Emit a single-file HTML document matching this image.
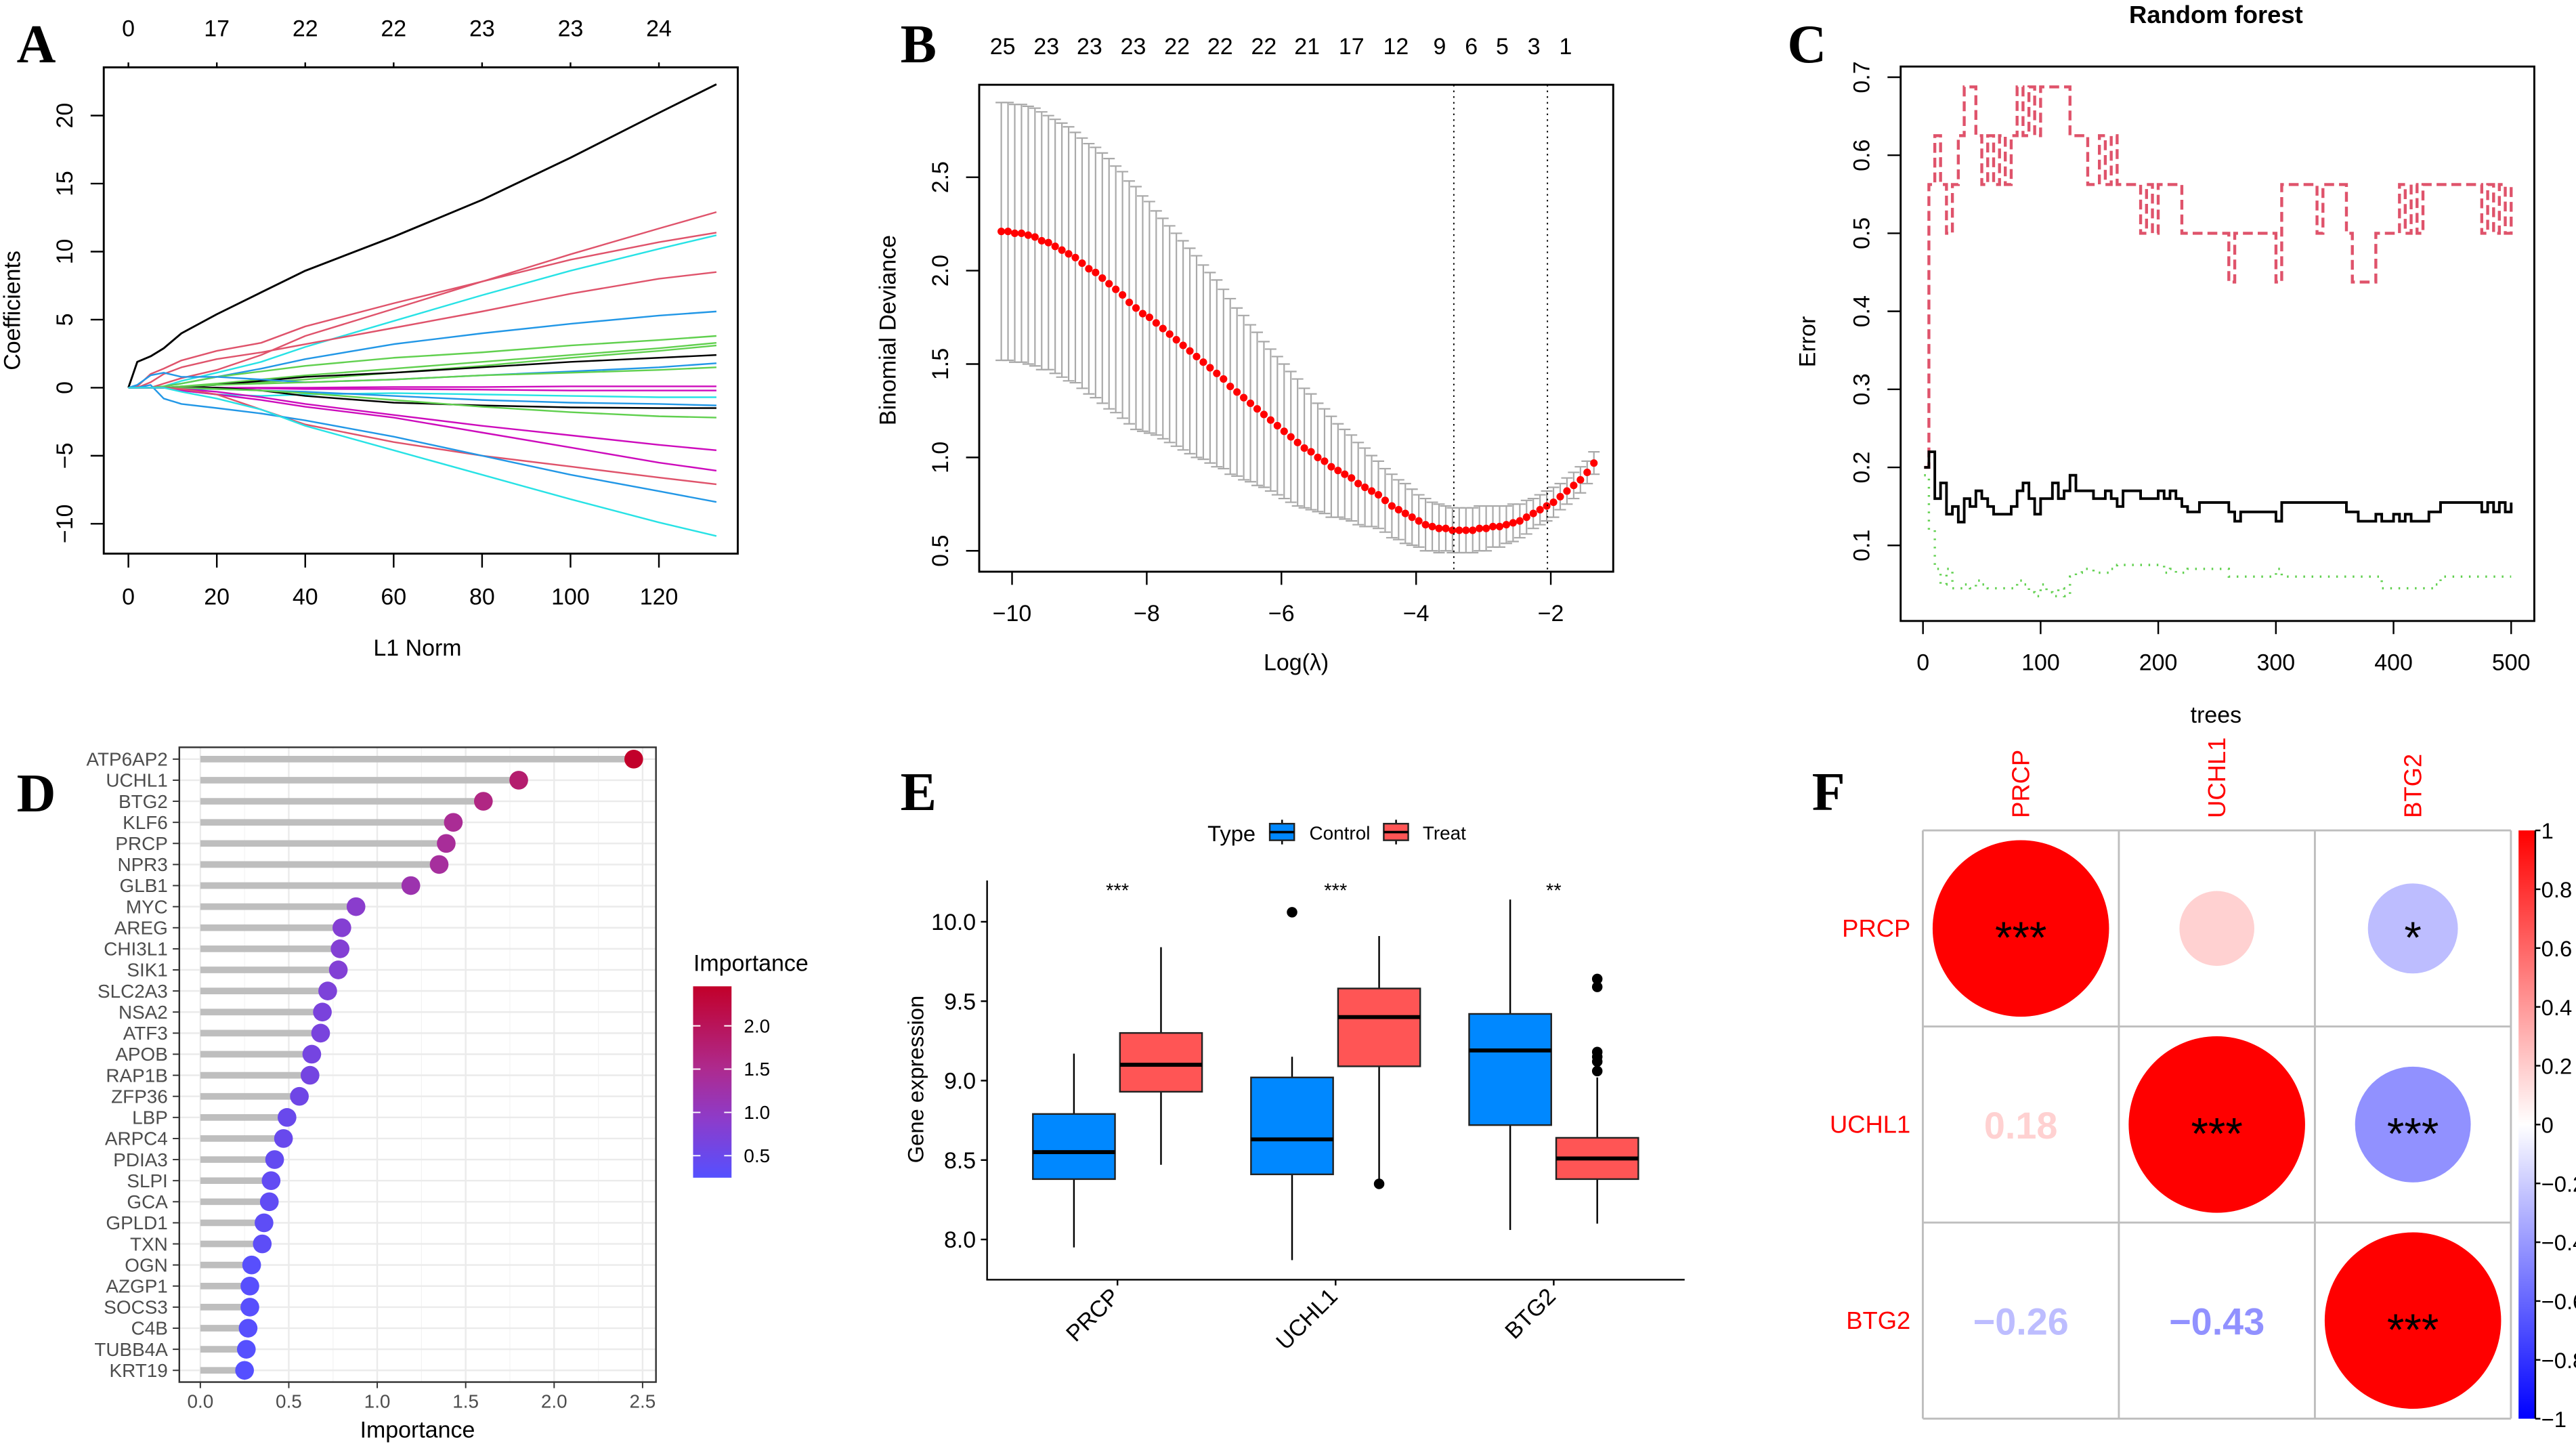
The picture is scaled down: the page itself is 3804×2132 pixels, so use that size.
<!DOCTYPE html>
<html><head><meta charset="utf-8"><title>Multi-panel figure</title>
<style>
html,body{margin:0;padding:0;background:#fff;}
svg{display:block;}
text{font-family:"Liberation Sans",sans-serif;}
.lbl{font-family:"Liberation Serif",serif;font-weight:bold;font-size:33px;}
</style></head>
<body>
<svg id="fig" xmlns="http://www.w3.org/2000/svg" width="3804" height="2132" viewBox="0 0 1568 879">
<rect x="0" y="0" width="1568" height="879" fill="#fff"/>
<text class="lbl" x="10" y="38">A</text>
<text class="lbl" x="548" y="38">B</text>
<text class="lbl" x="1088" y="38">C</text>
<text class="lbl" x="10" y="494">D</text>
<text class="lbl" x="548" y="493">E</text>
<text class="lbl" x="1103" y="493">F</text>
<g id="pA"></g>
<g id="pB"></g>
<g id="pC"></g>
<g id="pD"></g>
<g id="pE"></g>
<g id="pF"></g>
</svg>
<script>
// ---------- Panel A data ----------
const aX=[0,2,5,8,12,20,30,40,60,80,100,120,133];
const aTopLabels=["0","17","22","22","23","23","24"];
const aPath01=[0,1.9,2.3,2.9,4.0,5.4,7.0,8.6,11.1,13.8,16.9,20.2,22.3];
const aPath02=[0,0,0,0.3,0.7,1.3,2.4,3.8,5.8,7.8,9.8,11.7,12.9];
const aPath03=[0,0.1,1.0,1.4,2.0,2.7,3.3,4.5,6.2,7.8,9.4,10.7,11.4];
const aPath04=[0,0,0,0.1,0.5,1.1,1.9,3.0,4.9,6.8,8.6,10.2,11.2];
const aPath05=[0,0,0.4,1.0,1.5,2.1,2.6,3.2,4.4,5.6,6.9,8.0,8.5];
const aPath06=[0,0,0,0.1,0.3,0.8,1.4,2.1,3.2,4.0,4.7,5.3,5.6];
const aPath07=[0,0,0,0.1,0.3,0.8,1.2,1.6,2.2,2.6,3.1,3.5,3.8];
const aPath08=[0,0,0,0,0.1,0.3,0.6,0.9,1.4,1.9,2.4,2.9,3.3];
const aPath09=[0,0,0,0,0.1,0.2,0.4,0.6,1.1,1.6,2.2,2.7,3.1];
const aPath10=[0,0,0,0,0,0.2,0.5,0.8,1.1,1.5,1.9,2.2,2.4];
const aPath11=[0,0.2,0.9,1.1,0.8,0.8,0.6,0.4,0.6,0.9,1.2,1.5,1.8];
const aPath12=[0,0,0,0,0.1,0.2,0.3,0.4,0.6,0.9,1.1,1.3,1.5];
const aPath13=[0,0,0,0,0,0,0,0,0.05,0.05,0.1,0.1,0.1];
const aPath14=[0,0,0,0,0,0,-0.05,-0.1,-0.1,-0.15,-0.2,-0.2,-0.2];
const aPath15=[0,0,0,0,-0.2,-0.5,-0.6,-0.5,-0.4,-0.5,-0.6,-0.7,-0.7];
const aPath16=[0,0,0,0,-0.1,-0.1,-0.2,-0.3,-0.6,-0.9,-1.1,-1.2,-1.3];
const aPath17=[0,0,0,0,0,0,-0.2,-0.6,-1.1,-1.3,-1.45,-1.5,-1.5];
const aPath18=[0,0,0,0,0,-0.1,-0.2,-0.4,-0.9,-1.4,-1.8,-2.1,-2.2];
const aPath19=[0,0,0,0,-0.1,-0.3,-0.7,-1.2,-2.0,-2.8,-3.5,-4.2,-4.6];
const aPath20=[0,0,0,0,-0.2,-0.5,-0.9,-1.4,-2.2,-3.3,-4.4,-5.5,-6.1];
const aPath21=[0,0,0,0,-0.1,-0.5,-1.6,-2.7,-4.0,-5.0,-5.8,-6.6,-7.1];
const aPath22=[0,0,0.2,-0.8,-1.2,-1.5,-1.9,-2.4,-3.6,-5.0,-6.4,-7.6,-8.4];
const aPath23=[0,0,0,0,-0.3,-0.8,-1.6,-2.8,-4.6,-6.4,-8.2,-9.9,-10.9];
const aPaths=[aPath01,aPath02,aPath03,aPath04,aPath05,aPath06,aPath07,aPath08,aPath09,aPath10,aPath11,aPath12,aPath13,aPath14,aPath15,aPath16,aPath17,aPath18,aPath19,aPath20,aPath21,aPath22,aPath23];
const aColors=["#000","#DF536B","#DF536B","#28E2E5","#DF536B","#2297E6","#61D04F","#61D04F","#61D04F","#000","#2297E6","#61D04F","#CD0BBC","#CD0BBC","#28E2E5","#2297E6","#000","#61D04F","#CD0BBC","#CD0BBC","#DF536B","#2297E6","#28E2E5"];

// ---------- Panel B data ----------
const bMean=[2.21,2.21,2.20,2.20,2.19,2.18,2.16,2.15,2.13,2.11,2.09,2.07,2.04,2.01,1.99,1.96,1.93,1.90,1.87,1.83,1.80,1.77,1.75,1.72,1.69,1.66,1.63,1.60,1.57,1.54,1.51,1.48,1.45,1.42,1.38,1.35,1.32,1.29,1.26,1.23,1.20,1.17,1.14,1.11,1.08,1.05,1.03,1.00,0.98,0.95,0.93,0.91,0.89,0.86,0.84,0.82,0.80,0.77,0.74,0.72,0.70,0.68,0.66,0.64,0.63,0.62,0.62,0.61,0.61,0.61,0.61,0.62,0.62,0.63,0.63,0.64,0.65,0.66,0.68,0.70,0.72,0.74,0.76,0.79,0.82,0.85,0.88,0.92,0.97];
const bSE=[.69,.69,.69,.69,.69,.69,.69,.68,.68,.68,.68,.67,.67,.67,.67,.67,.67,.66,.66,.65,.65,.63,.62,.60,.59,.58,.57,.56,.55,.54,.52,.51,.50,.48,.47,.45,.44,.42,.41,.39,.38,.37,.36,.35,.34,.32,.31,.29,.28,.27,.25,.24,.23,.22,.21,.19,.18,.17,.17,.16,.16,.15,.14,.14,.13,.13,.12,.12,.12,.12,.12,.12,.12,.11,.11,.10,.10,.09,.09,.08,.08,.08,.08,.07,.07,.07,.07,.06,.06];
const bLambdaStart=-10.16, bLambdaStep=0.1;
const bTopLambda=[-10.14,-9.49,-8.85,-8.20,-7.55,-6.91,-6.26,-5.62,-4.96,-4.30,-3.65,-3.18,-2.72,-2.25,-1.78];
const bTopLabels=["25","23","23","23","22","22","22","21","17","12","9","6","5","3","1"];
const bVLines=[-3.44,-2.05];

// ---------- Panel C data ----------
const cRed=[.20,
.5625,.625,.5625,.5,.5625,.625,.6875,.6875,.625,.5625,
.625,.5625,.625,.5625,.625,.6875,.625,.6875,.625,.6875,
.6875,.6875,.6875,.6875,.625,.625,.625,.5625,.5625,.625,
.5625,.625,.5625,.5625,.5625,.5625,.5,.5625,.5,.5625,
.5625,.5625,.5625,.5,.5,.5,.5,.5,.5,.5,
.5,.4375,.5,.5,.5,.5,.5,.5,.5,.4375,
.5625,.5625,.5625,.5625,.5625,.5625,.5,.5625,.5625,.5625,
.5625,.5,.4375,.4375,.4375,.4375,.5,.5,.5,.5,
.5625,.5,.5625,.5,.5625,.5625,.5625,.5625,.5625,.5625,
.5625,.5625,.5625,.5625,.5,.5625,.5,.5625,.5,.5625];
const cBlack=[.20,
.22,.16,.18,.14,.15,.13,.16,.15,.17,.16,
.15,.14,.14,.14,.15,.17,.18,.16,.14,.16,
.16,.18,.16,.17,.19,.17,.17,.17,.16,.16,
.17,.16,.15,.17,.17,.17,.16,.16,.16,.17,
.16,.17,.16,.15,.143,.143,.155,.155,.155,.155,
.155,.143,.131,.143,.143,.143,.143,.143,.143,.131,
.155,.155,.155,.155,.155,.155,.155,.155,.155,.155,
.155,.143,.143,.131,.131,.131,.14,.131,.131,.14,
.131,.14,.131,.131,.131,.143,.143,.155,.155,.155,
.155,.155,.155,.155,.143,.155,.143,.155,.143,.155];
const cGreen=[.19,
.12,.07,.05,.07,.045,.045,.05,.045,.055,.05,
.045,.045,.045,.045,.045,.055,.05,.04,.035,.05,
.04,.035,.045,.035,.06,.065,.07,.07,.065,.065,
.065,.07,.075,.075,.075,.075,.075,.075,.075,.075,
.065,.07,.065,.065,.07,.07,.07,.07,.07,.07,
.07,.06,.06,.06,.06,.06,.06,.06,.06,.07,
.06,.06,.06,.06,.06,.06,.06,.06,.06,.06,
.06,.06,.06,.06,.06,.06,.06,.045,.045,.045,
.045,.045,.045,.045,.045,.045,.05,.06,.06,.06,
.06,.06,.06,.06,.06,.06,.06,.06,.06,.06];

// ---------- Panel D data ----------
const dGenes=["ATP6AP2","UCHL1","BTG2","KLF6","PRCP","NPR3","GLB1","MYC","AREG","CHI3L1","SIK1","SLC2A3","NSA2","ATF3","APOB","RAP1B","ZFP36","LBP","ARPC4","PDIA3","SLPI","GCA","GPLD1","TXN","OGN","AZGP1","SOCS3","C4B","TUBB4A","KRT19"];
const dValues=[2.45,1.80,1.60,1.43,1.39,1.35,1.19,0.88,0.80,0.79,0.78,0.72,0.69,0.68,0.63,0.62,0.56,0.49,0.47,0.42,0.40,0.39,0.36,0.35,0.29,0.28,0.28,0.27,0.26,0.25];
const dTicks=["0.0","0.5","1.0","1.5","2.0","2.5"];
const dLegendTicks=["0.5","1.0","1.5","2.0"];

// ---------- Panel E data ----------
const eGenes=["PRCP","UCHL1","BTG2"];
const eSig=["***","***","**"];
const eCtrlLow=[7.95,7.87,8.06], eCtrlQ1=[8.38,8.41,8.72], eCtrlMed=[8.55,8.63,9.19], eCtrlQ3=[8.79,9.02,9.42], eCtrlHigh=[9.17,9.15,10.14];
const eTrtLow=[8.47,8.37,8.10], eTrtQ1=[8.93,9.09,8.38], eTrtMed=[9.10,9.40,8.51], eTrtQ3=[9.30,9.58,8.64], eTrtHigh=[9.84,9.91,9.02];
const eCtrlOut=[[],[10.06],[]];
const eTrtOut=[[],[8.35],[9.64,9.59,9.18,9.15,9.12,9.06]];
const eTicks=["8.0","8.5","9.0","9.5","10.0"];

// ---------- Panel F data ----------
const fGenes=["PRCP","UCHL1","BTG2"];
const fRow1=[1,0.18,-0.26];
const fRow2=[0.18,1,-0.43];
const fRow3=[-0.26,-0.43,1];
const fStars1=["***","","*"];
const fStars2=["","***","***"];
const fStars3=["","","***"];
const fBarTicks=["1","0.8","0.6","0.4","0.2","0","-0.2","-0.4","-0.6","-0.8","-1"];

const NS="http://www.w3.org/2000/svg";
function mk(parent,tag,attrs,txt){const e=document.createElementNS(NS,tag);for(const k in attrs)e.setAttribute(k,attrs[k]);if(txt!==undefined)e.textContent=txt;parent.appendChild(e);return e;}
const defs=mk(document.getElementById('fig'),'defs',{});

// ======== Panel A ========
(function(){
const g=document.getElementById('pA');
const ax=v=>78+v*(323/120);
const ay=v=>236-v*8.283;
let e=mk(g,'rect',{x:63,y:41,width:386,height:296,fill:'none',stroke:'#000','stroke-width':1.2});


for(let i=0;i<=6;i++){const v=i*20;
 let t=mk(g,'line',{x1:ax(v),x2:ax(v),y1:337,y2:345.5,stroke:'#000'});
 
 
 let l=mk(g,'text',{x:ax(v),y:368,'font-size':14,'text-anchor':'middle'},String(v));
 
 
 let tt=mk(g,'line',{x1:ax(v),x2:ax(v),y1:38,y2:41,stroke:'#000'});
 
 
 let tl=mk(g,'text',{x:ax(v),y:22,'font-size':14,'text-anchor':'middle'},aTopLabels[i]);
 
 
}
for(let v=-10;v<=20;v+=5){
 let t=mk(g,'line',{x1:55,x2:63,y1:ay(v),y2:ay(v),stroke:'#000'});
 
 
 let l=mk(g,'text',{x:44,y:ay(v),'font-size':14,'text-anchor':'middle',transform:`rotate(-90 44 ${ay(v)})`},v<0?'\u2212'+(-v):String(v));
 
 
}
aPaths.forEach((p,k)=>{
 const d=p.map((v,i)=>(i?'L':'M')+ax(aX[i]).toFixed(1)+','+ay(v).toFixed(1)).join('');
 let s=mk(g,'path',{d:d,fill:'none',stroke:aColors[k],'stroke-width':(k===0?1.2:1),'stroke-linejoin':'round'});
 
 
});
let xt=mk(g,'text',{x:254,y:399,'font-size':14,'text-anchor':'middle'},'L1 Norm');


let yt=mk(g,'text',{x:12,y:189,'font-size':14,'text-anchor':'middle',transform:'rotate(-90 12 189)'},'Coefficients');


})();

// ======== Panel B ========
(function(){
const g=document.getElementById('pB');
const bx=l=>616+(l+10)*41;
const by=v=>335.3-(v-0.5)*113.7;
let e=mk(g,'rect',{x:596,y:51.6,width:386,height:296.4,fill:'none',stroke:'#000','stroke-width':1.2});


for(let v=-10;v<=-2;v+=2){
 let t=mk(g,'line',{x1:bx(v),x2:bx(v),y1:348,y2:356,stroke:'#000'});
 
 
 let l=mk(g,'text',{x:bx(v),y:378,'font-size':14,'text-anchor':'middle'},'\u2212'+(-v));
 
 
}
for(let i=0;i<5;i++){const v=0.5+i*0.5;
 let t=mk(g,'line',{x1:588,x2:596,y1:by(v),y2:by(v),stroke:'#000'});
 
 
 let l=mk(g,'text',{x:577,y:by(v),'font-size':14,'text-anchor':'middle',transform:`rotate(-90 577 ${by(v)})`},v.toFixed(1));
 
 
}
bTopLambda.forEach((l,i)=>{
 let t=mk(g,'text',{x:bx(l),y:33,'font-size':14,'text-anchor':'middle'},bTopLabels[i]);
 
 
});
bMean.forEach((m,i)=>{
 const l=bLambdaStart+i*bLambdaStep, x=bx(l), hi=by(m+bSE[i]), lo=by(m-bSE[i]);
 let eb=mk(g,'path',{d:`M${x},${hi}V${lo}M${x-3.5},${hi}H${x+3.5}M${x-3.5},${lo}H${x+3.5}`,stroke:'#A9A9A9','stroke-width':0.9,fill:'none'});
 
 
});
bMean.forEach((m,i)=>{
 const l=bLambdaStart+i*bLambdaStep;
 let c=mk(g,'circle',{cx:bx(l),cy:by(m),r:2.3,fill:'#FF0000'});
 
 
});
bVLines.forEach(l=>{
 let v=mk(g,'line',{x1:bx(l),x2:bx(l),y1:51.6,y2:348,stroke:'#000','stroke-width':0.8,'stroke-dasharray':'1 2.5'});
 
 
});
let xt=mk(g,'text',{x:789,y:408,'font-size':14,'text-anchor':'middle'},'Log(\u03bb)');


let yt=mk(g,'text',{x:545,y:201,'font-size':14,'text-anchor':'middle',transform:'rotate(-90 545 201)'},'Binomial Deviance');


})();

// ======== Panel C ========
(function(){
const g=document.getElementById('pC');
const cx=t=>1170.6+t*0.7162;
const cy=v=>332-(v-0.1)*475;
let e=mk(g,'rect',{x:1157,y:40.5,width:385.8,height:337.5,fill:'none',stroke:'#000','stroke-width':1.2});


for(let v=0;v<=500;v+=100){
 let t=mk(g,'line',{x1:cx(v),x2:cx(v),y1:378,y2:386,stroke:'#000'});
 
 
 let l=mk(g,'text',{x:cx(v),y:408,'font-size':14,'text-anchor':'middle'},String(v));
 
 
}
for(let i=1;i<=7;i++){const v=i/10;
 let t=mk(g,'line',{x1:1149,x2:1157,y1:cy(v),y2:cy(v),stroke:'#000'});
 
 
 let l=mk(g,'text',{x:1138,y:cy(v),'font-size':14,'text-anchor':'middle',transform:`rotate(-90 1138 ${cy(v)})`},v.toFixed(1));
 
 
}
const trees=cRed.map((_,i)=>i===0?1:i*5);
function stepPath(vals){let d='M'+cx(trees[0]).toFixed(1)+','+cy(vals[0]).toFixed(1);for(let i=1;i<vals.length;i++){d+='H'+cx(trees[i]).toFixed(1)+'V'+cy(vals[i]).toFixed(1);}return d;}
let r=mk(g,'path',{d:stepPath(cRed),fill:'none',stroke:'#DF536B','stroke-width':1.8,'stroke-dasharray':'6 3'});


let gr=mk(g,'path',{d:stepPath(cGreen),fill:'none',stroke:'#61D04F','stroke-width':1.4,'stroke-dasharray':'1 4'});


let b=mk(g,'path',{d:stepPath(cBlack),fill:'none',stroke:'#000','stroke-width':1.6});


let ti=mk(g,'text',{x:1349,y:14,'font-size':15,'font-weight':'bold','text-anchor':'middle'},'Random forest');


let xt=mk(g,'text',{x:1349,y:440,'font-size':14,'text-anchor':'middle'},'trees');


let yt=mk(g,'text',{x:1105,y:208,'font-size':14,'text-anchor':'middle',transform:'rotate(-90 1105 208)'},'Error');


})();

// ======== Panel D ========
function impColor(v){
 const stops=[[0.25,[85,80,255]],[0.9,[140,60,203]],[1.5,[174,42,142]],[2.45,[194,0,42]]];
 if(v<=stops[0][0])return 'rgb('+stops[0][1]+')';
 for(let i=1;i<stops.length;i++){if(v<=stops[i][0]){const a=stops[i-1],b=stops[i],t=(v-a[0])/(b[0]-a[0]);return 'rgb('+a[1].map((c,k)=>Math.round(c+(b[1][k]-c)*t)).join(',')+')';}}
 return 'rgb('+stops[3][1]+')';
}
(function(){
const g=document.getElementById('pD');
const dx=v=>121.8+v*107.7;
const dy=i=>462.1+i*12.83;
let bg=mk(g,'rect',{x:109,y:454.9,width:290.2,height:386.4,fill:'#fff'});


for(let k=0;k<=10;k++){const v=k*0.25;
 let gl=mk(g,'line',{x1:dx(v),x2:dx(v),y1:454.9,y2:841.3,stroke:(k%2?'#f3f3f3':'#ebebeb'),'stroke-width':(k%2?0.5:1)});
 
 
}
dGenes.forEach((gn,i)=>{
 let gl=mk(g,'line',{x1:109,x2:399.2,y1:dy(i),y2:dy(i),stroke:'#ebebeb','stroke-width':1});
 
 
});
dGenes.forEach((gn,i)=>{
 let s=mk(g,'line',{x1:dx(0),x2:dx(dValues[i]),y1:dy(i),y2:dy(i),stroke:'#bebebe','stroke-width':4});
 
 
});
dGenes.forEach((gn,i)=>{
 let c=mk(g,'circle',{cx:dx(dValues[i]),cy:dy(i),r:5.7,fill:impColor(dValues[i])});
 
 
 let t=mk(g,'line',{x1:105,x2:109,y1:dy(i),y2:dy(i),stroke:'#333','stroke-width':0.8});
 
 
 let l=mk(g,'text',{x:102,y:dy(i)+4,'font-size':11.5,'text-anchor':'end',fill:'#4d4d4d'},gn);
 
 
});
let bd=mk(g,'rect',{x:109,y:454.9,width:290.2,height:386.4,fill:'none',stroke:'#333','stroke-width':1});


dTicks.forEach((tk,i)=>{const v=i*0.5;
 let t=mk(g,'line',{x1:dx(v),x2:dx(v),y1:841.3,y2:845,stroke:'#333','stroke-width':0.8});
 
 
 let l=mk(g,'text',{x:dx(v),y:857,'font-size':11.5,'text-anchor':'middle',fill:'#4d4d4d'},tk);
 
 
});
let xt=mk(g,'text',{x:254,y:875,'font-size':14,'text-anchor':'middle'},'Importance');


// legend
const lg=mk(defs,'linearGradient',{id:'impGrad',x1:0,y1:1,x2:0,y2:0});
[[0,0.245],[0.3,0.9],[0.57,1.5],[1,2.455]].forEach(s=>{mk(lg,'stop',{offset:s[0],'stop-color':impColor(s[1])});});
let lt=mk(g,'text',{x:422,y:591,'font-size':14},'Importance');


let lb=mk(g,'rect',{x:421.8,y:600.4,width:23.4,height:116.5,fill:'url(#impGrad)'});


const ly=v=>703.5-(v-0.5)*52.7;
dLegendTicks.forEach(tk=>{const v=parseFloat(tk);
 let m=mk(g,'path',{d:`M421.8,${ly(v)}h4.5M445.2,${ly(v)}h-4.5`,stroke:'#fff','stroke-width':0.8});
 
 
 let l=mk(g,'text',{x:452.7,y:ly(v)+4,'font-size':11.5},tk);
 
 
});
})();

// ======== Panel E ========
(function(){
const g=document.getElementById('pE');
const ey=v=>561.1+(10-v)*96.7;
const ex=i=>600.5+(i+0.6)*132.8;
const off=26.5, hw=25;
let ax1=mk(g,'line',{x1:600.8,x2:600.8,y1:536,y2:779,stroke:'#000','stroke-width':1});


let ax2=mk(g,'line',{x1:600.3,x2:1025.5,y1:779,y2:779,stroke:'#000','stroke-width':1});


eTicks.forEach(tk=>{const v=parseFloat(tk);
 let t=mk(g,'line',{x1:597,x2:600.8,y1:ey(v),y2:ey(v),stroke:'#000'});
 
 
 let l=mk(g,'text',{x:594,y:ey(v)+5,'font-size':14,'text-anchor':'end'},tk);
 
 
});
function box(x,lo,q1,med,q3,hi,fill,outs,name){
 let w=mk(g,'line',{x1:x,x2:x,y1:ey(hi),y2:ey(lo),stroke:'#000','stroke-width':1});
 
 
 let b=mk(g,'rect',{x:x-hw,y:ey(q3),width:2*hw,height:ey(q1)-ey(q3),fill:fill,stroke:'#222','stroke-width':1});
 
 
 let m=mk(g,'line',{x1:x-hw,x2:x+hw,y1:ey(med),y2:ey(med),stroke:'#000','stroke-width':2.4});
 
 
 outs.forEach(o=>{
  let c=mk(g,'circle',{cx:x,cy:ey(o),r:3.2,fill:'#000'});
  
  
 });
}
eGenes.forEach((gn,i)=>{
 box(ex(i)-off,eCtrlLow[i],eCtrlQ1[i],eCtrlMed[i],eCtrlQ3[i],eCtrlHigh[i],'#0088FF',eCtrlOut[i],'control-box');
 box(ex(i)+off,eTrtLow[i],eTrtQ1[i],eTrtMed[i],eTrtQ3[i],eTrtHigh[i],'#FF5555',eTrtOut[i],'treat-box');
 let t=mk(g,'line',{x1:ex(i),x2:ex(i),y1:779,y2:782.5,stroke:'#000'});
 
 
 let l=mk(g,'text',{x:ex(i)+2,y:790,'font-size':14,'text-anchor':'end',transform:`rotate(-45 ${ex(i)+2} 790)`},gn);
 
 
 let s=mk(g,'text',{x:ex(i),y:546,'font-size':12,'text-anchor':'middle'},eSig[i]);
 
 
});
let yt=mk(g,'text',{x:562,y:657,'font-size':13.5,'text-anchor':'middle',transform:'rotate(-90 562 657)'},'Gene expression');


let lt=mk(g,'text',{x:735,y:512,'font-size':13.5},'Type');


[[772.9,'#0088FF','Control',797,'legend-control'],[842.3,'#FF5555','Treat',866,'legend-treat']].forEach(it=>{
 let k=mk(g,'path',{d:`M${it[0]+7.5},499v15`,stroke:'#000','stroke-width':1});
 
 
 let r=mk(g,'rect',{x:it[0],y:501.4,width:14.9,height:10.1,fill:it[1],stroke:'#222','stroke-width':1});
 
 
 let m=mk(g,'line',{x1:it[0],x2:it[0]+14.9,y1:506.5,y2:506.5,stroke:'#000','stroke-width':1.5});
 
 
 let t=mk(g,'text',{x:it[3],y:511,'font-size':11.5},it[2]);
 
 
});
})();

// ======== Panel F ========
function corColor(r){const a=Math.abs(r);const c=Math.round(255*(1-a));return r>=0?`rgb(255,${c},${c})`:`rgb(${c},${c},255)`;}
(function(){
const g=document.getElementById('pF');
const x0=1170.5,y0=505.5,cs=119.35;
const rows=[fRow1,fRow2,fRow3], stars=[fStars1,fStars2,fStars3];
for(let i=0;i<=3;i++){
 let h=mk(g,'line',{x1:x0,x2:x0+3*cs,y1:y0+i*cs,y2:y0+i*cs,stroke:'#BEBEBE','stroke-width':1.2});
 
 
 let v=mk(g,'line',{x1:x0+i*cs,x2:x0+i*cs,y1:y0,y2:y0+3*cs,stroke:'#BEBEBE','stroke-width':1.2});
 
 
}
rows.forEach((row,i)=>{
 row.forEach((r,j)=>{
  const cx=x0+(j+0.5)*cs, cy=y0+(i+0.5)*cs;
  if(j>=i){
   let c=mk(g,'circle',{cx:cx,cy:cy,r:0.45*cs*Math.sqrt(Math.abs(r)),fill:corColor(r)});
   
   
   if(stars[i][j]){
    let s=mk(g,'text',{x:cx,y:cy+15,'font-size':27,'text-anchor':'middle'},stars[i][j]);
    
    
   }
  } else {
   const txt=(r<0?'\u2212':'')+Math.abs(r).toFixed(2).replace(/^0/,'0');
   let t=mk(g,'text',{x:cx,y:cy+8.5,'font-size':23,'font-weight':'bold','text-anchor':'middle',fill:corColor(r)},txt);
   
   
  }
 });
});
fGenes.forEach((gn,i)=>{
 const cx=x0+(i+0.5)*cs, cy=y0+(i+0.5)*cs;
 let c=mk(g,'text',{x:cx+5,y:498,'font-size':15,fill:'#FF0000',transform:`rotate(-90 ${cx+5} 498)`},gn);
 
 
 let r=mk(g,'text',{x:1163,y:cy+5,'font-size':15,fill:'#FF0000','text-anchor':'end'},gn);
 
 
});
const cg=mk(defs,'linearGradient',{id:'corGrad',x1:0,y1:1,x2:0,y2:0});
mk(cg,'stop',{offset:0,'stop-color':'#0000FF'});
mk(cg,'stop',{offset:0.5,'stop-color':'#FFFFFF'});
mk(cg,'stop',{offset:1,'stop-color':'#FF0000'});
let bar=mk(g,'rect',{x:1533.2,y:505.5,width:10.2,height:358.1,fill:'url(#corGrad)'});


let bl=mk(g,'line',{x1:1543.4,x2:1543.4,y1:505.5,y2:863.6,stroke:'#000','stroke-width':1});


fBarTicks.forEach((tk,i)=>{const y=505.5+i*35.81;
 let t=mk(g,'line',{x1:1543.4,x2:1546.5,y1:y,y2:y,stroke:'#000'});
 
 
 let l=mk(g,'text',{x:1547,y:y+5,'font-size':13.5},tk.replace('-','\u2212'));
 
 
});
})();
</script>
</body></html>
